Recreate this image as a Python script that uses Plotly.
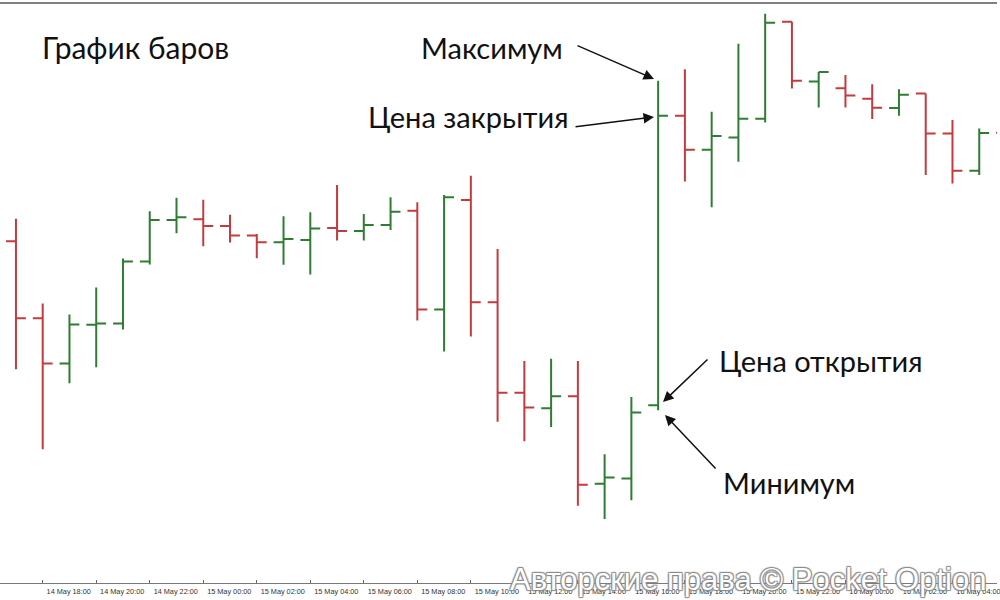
import plotly.graph_objects as go

# ---- data ----
times = [
    "2024-05-14 17:00", "2024-05-14 18:00", "2024-05-14 19:00", "2024-05-14 20:00",
    "2024-05-14 21:00", "2024-05-14 22:00", "2024-05-14 23:00", "2024-05-15 00:00",
    "2024-05-15 01:00", "2024-05-15 02:00", "2024-05-15 03:00", "2024-05-15 04:00",
    "2024-05-15 05:00", "2024-05-15 06:00", "2024-05-15 07:00", "2024-05-15 08:00",
    "2024-05-15 09:00", "2024-05-15 10:00", "2024-05-15 11:00", "2024-05-15 12:00",
    "2024-05-15 13:00", "2024-05-15 14:00", "2024-05-15 15:00", "2024-05-15 16:00",
    "2024-05-15 17:00", "2024-05-15 18:00", "2024-05-15 19:00", "2024-05-15 20:00",
    "2024-05-15 21:00", "2024-05-15 22:00", "2024-05-15 23:00", "2024-05-16 00:00",
    "2024-05-16 01:00", "2024-05-16 02:00", "2024-05-16 03:00", "2024-05-16 04:00",
    "2024-05-16 05:00", "2024-05-16 06:00",
]
open_ = [359.3, 282.3, 237.0, 275.7, 277.0, 339.0, 380.7, 381.3, 374.7, 365.0,
         358.3, 360.7, 372.7, 369.7, 375.7, 390.0, 291.0, 400.7, 298.3, 207.7,
         192.0, 204.0, 116.3, 121.7, 195.0, 485.0, 451.0, 463.3, 482.0, 579.3,
         519.3, 512.7, 502.0, 492.7, 507.3, 467.3, 430.0, 468.0]
high = [382.0, 297.0, 286.0, 313.0, 342.0, 389.3, 403.0, 401.0, 386.0, 366.7,
        384.3, 388.3, 415.7, 386.7, 403.3, 398.3, 405.7, 425.0, 351.7, 239.3,
        241.7, 239.3, 146.0, 203.3, 520.0, 531.7, 489.0, 557.3, 587.3, 579.3,
        529.0, 526.0, 516.7, 511.7, 507.3, 480.7, 472.3, 480.0]
low = [231.0, 151.0, 217.0, 233.0, 271.0, 336.0, 367.3, 354.3, 358.0, 342.3,
       335.7, 326.0, 360.0, 360.0, 370.7, 280.0, 249.0, 264.0, 178.5, 159.0,
       173.3, 94.3, 81.0, 100.0, 190.0, 419.3, 393.3, 439.0, 478.3, 512.3,
       493.3, 493.3, 481.7, 485.0, 425.7, 417.3, 425.7, 440.0]
close = [282.3, 237.0, 276.0, 277.0, 339.0, 380.7, 383.3, 374.7, 365.0, 358.3,
         361.7, 372.0, 369.7, 375.7, 389.0, 291.0, 403.3, 298.3, 207.7, 192.7,
         204.0, 115.3, 122.7, 187.7, 485.0, 451.0, 464.7, 482.0, 578.3, 520.0,
         529.0, 505.3, 493.0, 506.0, 467.3, 430.0, 467.7, 455.0]

title_text = "График баров"
labels = [
    ("Максимум", 567, 47),
    ("Цена закрытия", 572, 116),
    ("Цена открытия", 719, 360),
    ("Минимум", 723, 482),
]
arrows = [  # tail (x,y) -> head (x,y), in pixels
    ((578, 45), (656, 79)),
    ((576, 127), (656, 117)),
    ((711, 358), (665, 402)),
    ((719, 470), (667, 415)),
]
watermark = "Авторские права © Pocket Option"

GREEN = "#2f7d32"
RED = "#c43a3f"

W, H = 1000, 600
ML, MR, MT, MB = 0, 0, 3, 17
PH = H - MT - MB


def px(x, y):
    return x / (W - ML - MR), (H - MB - y) / PH


fig = go.Figure(
    go.Ohlc(
        x=times, open=open_, high=high, low=low, close=close,
        increasing=dict(line=dict(color=GREEN, width=2)),
        decreasing=dict(line=dict(color=RED, width=2)),
        tickwidth=0.37,
        hoverinfo="skip",
    )
)

ann = []
tx, ty = px(40, 47)
ann.append(dict(text=title_text, x=tx, y=ty, xref="paper", yref="paper",
                xanchor="left", yanchor="middle", showarrow=False,
                font=dict(family="Lato", size=30, color="#111")))
for t, x, y in labels:
    ax_, ay_ = px(x, y)
    ann.append(dict(text=t, x=ax_, y=ay_, xref="paper", yref="paper",
                    xanchor="right" if x < 650 else "left", yanchor="middle",
                    showarrow=False,
                    font=dict(family="Lato", size=29, color="#111")))
for (tx0, ty0), (hx, hy) in arrows:
    x0, y0 = px(hx, hy)
    ann.append(dict(text="", x=x0, y=y0, xref="paper", yref="paper",
                    ax=tx0 - hx, ay=ty0 - hy, showarrow=True,
                    arrowhead=2, arrowsize=1.4, arrowwidth=1.5,
                    arrowcolor="#111"))
wx, wy = px(750, 579)
ann.append(dict(text=watermark, x=wx, y=wy, xref="paper", yref="paper",
                xanchor="center", yanchor="middle", showarrow=False,
                font=dict(family="Liberation Sans", size=31, color="white",
                          shadow="-1px -1px 1px #8a8a8a, 1px -1px 1px #8a8a8a, "
                                 "-1px 1px 1px #8a8a8a, 1px 1px 1px #8a8a8a")))

fig.update_layout(
    width=W, height=H,
    margin=dict(l=ML, r=MR, t=MT, b=MB),
    paper_bgcolor="white", plot_bgcolor="white",
    showlegend=False,
    annotations=ann,
    shapes=[dict(type="line", xref="paper", yref="paper", x0=0, x1=1,
                 y0=1, y1=1, line=dict(color="#808080", width=2))],
    xaxis=dict(
        type="date",
        range=["2024-05-14 16:24:14", "2024-05-16 05:39:50"],
        rangeslider=dict(visible=False),
        showgrid=False, zeroline=False,
        showline=True, linecolor="#7a7a7a", linewidth=1, mirror=True,
        ticks="inside", ticklen=3, tickcolor="#666", tickwidth=1,
        dtick=7200000, tick0="2024-05-14 00:00",
        tickformat="%d %b %H:%M",
        tickfont=dict(family="Liberation Sans", size=7.3, color="#333"),
        ticklabelshift=26, ticklabelstandoff=1,
        ticklabeloverflow="allow",
        fixedrange=True,
    ),
    yaxis=dict(
        range=[17, 598], visible=False, showgrid=False, zeroline=False,
        fixedrange=True,
    ),
)

fig.write_html("out.html", config={"displayModeBar": False},
               post_script="document.body.style.margin='0';")
